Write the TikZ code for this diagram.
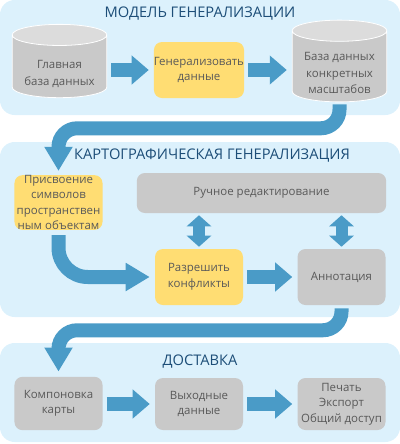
\documentclass[tikz,border=0pt]{standalone}
\usepackage{fontspec}
\setmainfont{Open Sans}
\usetikzlibrary{arrows.meta, shapes.geometric, positioning}
\definecolor{genPanel}{HTML}{DCF1FC}
\definecolor{genBlue}{HTML}{4A9BC7}
\definecolor{genGrey}{HTML}{C9C9C9}
\definecolor{genCap}{HTML}{DCDCDC}
\definecolor{genYellow}{HTML}{FFDD73}
\definecolor{genTitle}{HTML}{1D4E78}
\definecolor{genText}{HTML}{595959}
% text of a database, set a little below the middle of the cylinder
\newcommand{\dblines}[1]{\raisebox{-5.5pt}[\height][\depth]{\begin{tabular}{@{}c@{}}#1\end{tabular}}}
\tikzset{
  panel/.style     = {genPanel, rounded corners=11pt},
  title/.style     = {font=\fontsize{11}{13}\selectfont, text=genTitle},
  box/.style       = {rounded corners=6pt, inner sep=0pt, align=center, text=genText,
                      font=\fontsize{8.6}{11.6}\selectfont,
                      minimum width=66pt, minimum height=42pt},
  greybox/.style   = {box, fill=genGrey},
  yellowbox/.style = {box, fill=genYellow},
  dbase/.style     = {cylinder, shape border rotate=90, aspect=0.3,
                      cylinder uses custom fill, cylinder body fill=genGrey,
                      cylinder end fill=genCap, draw=white, line width=0.6pt,
                      inner sep=0pt, minimum width=71pt, minimum height=55pt,
                      text=genText, font=\fontsize{8.6}{12.4}\selectfont},
  flow/.style      = {genBlue, line width=11pt, -{Triangle[length=12.75pt, width=21pt]},
                      shorten <=3pt, shorten >=3.75pt},
  curvearrow/.style = {genBlue, line width=10.5pt, rounded corners=14pt,
                      -{Triangle[length=18pt, width=20pt]}},
  both/.style      = {genBlue, line width=9pt,
                      {Triangle[length=8.25pt, width=18pt]}-{Triangle[length=8.25pt, width=18pt]},
                      shorten <=1.5pt, shorten >=1.5pt},
}

\begin{document}
\begin{tikzpicture}[x=0.75pt, y=-0.75pt]
  \useasboundingbox (0,0) rectangle (400,444);

  % panels
  \fill[panel] (0,0) rectangle (400,115);
  \fill[panel] (0,142) rectangle (400,317);
  \fill[panel] (0,343) rectangle (400,442);

  \node[title] (t1) at (200,14) {МОДЕЛЬ ГЕНЕРАЛИЗАЦИИ};
  \node[title] (t2) at (212,156) {КАРТОГРАФИЧЕСКАЯ ГЕНЕРАЛИЗАЦИЯ};
  \node[title] (t3) at (200,362) {ДОСТАВКА};

  % model
  \node[dbase] (db1) at (59.5,66.5) {\dblines{Главная\\база данных}};
  \node[yellowbox] (gen) at (199,70) {Генерализовать\\данные};
  \node[dbase] (db2) at (339.5,66.5) {\dblines{База данных\\конкретных\\масштабов}};

  % cartographic
  \node[yellowbox, minimum height=41pt] (assign) at (58.5,202.5)
    {Присвоение\\символов\\пространствен\\ным объектам};
  \node[greybox, minimum width=187pt, minimum height=30pt] (manual) at (261.5,193)
    {Ручное редактирование};
  \node[yellowbox] (resolve) at (199,277) {Разрешить\\конфликты};
  \node[greybox] (annot) at (341.5,277) {Аннотация};

  % delivery
  \node[greybox, minimum height=40pt] (layout) at (58.5,403.5) {Компоновка\\карты};
  \node[greybox, minimum height=39pt] (output) at (199,404) {Выходные\\данные};
  \node[greybox, minimum height=39pt] (export) at (341.5,404) {Печать\\Экспорт\\Общий доступ};

  \draw[flow] (db1.east |- gen.west) -- (gen.west);
  \draw[flow] (gen.east) -- (db2.west |- gen.east);
  \draw[flow] (resolve.east) -- (annot.west);
  \draw[flow] (layout.east |- output.west) -- (output.west);
  \draw[flow] (output.east) -- (export.west);

  \draw[both] (manual.south -| resolve.north) -- (resolve.north);
  \draw[both] (manual.south -| annot.north) -- (annot.north);

  \draw[curvearrow, shorten <=1.5pt, shorten >=3pt] (db2.south) -- ++(0,26) -| (assign.north);
  \draw[curvearrow, rounded corners=22pt, shorten <=3.75pt, shorten >=3.75pt]
    (assign.south) |- (resolve.west);
  \draw[curvearrow, shorten <=2.25pt, shorten >=3.75pt] (annot.south) -- ++(0,25) -| (layout.north);
\end{tikzpicture}
\end{document}
